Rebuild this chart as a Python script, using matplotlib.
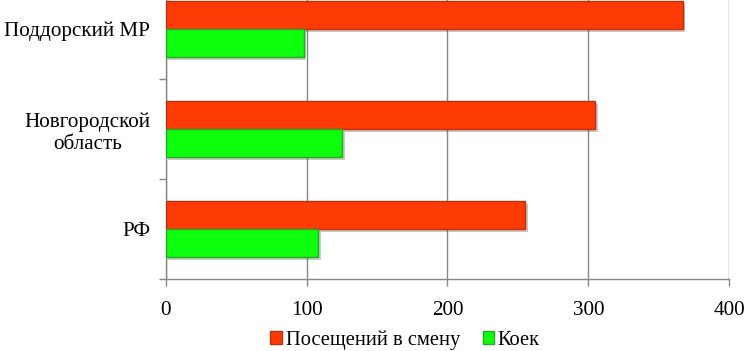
import matplotlib
matplotlib.use("Agg")
import matplotlib.pyplot as plt
import matplotlib.patheffects as pe
from matplotlib.patches import Patch
import numpy as np

categories = ["РФ", "Новгородской\nобласть", "Поддорский МР"]
series_names = ["Посещений в смену", "Коек"]
visits = [255, 305, 367]
beds = [108, 125, 98]
xticks = [0, 100, 200, 300, 400]

red = "#FF3B05"
red_edge = "#B8310F"
green = "#0DFF0D"
green_edge = "#2AA52A"
grid_c = "#878787"

FONT = 'Liberation Serif'
plt.rcParams['font.family'] = [FONT, 'DejaVu Serif']
fs = 15.2

fig = plt.figure(figsize=(7.46, 3.51), dpi=100)
ax = fig.add_axes([0.222, 0.205, 0.7555, 0.855])

y = np.arange(len(categories))
h = 0.28
shadow = [pe.SimplePatchShadow(offset=(2, -2), alpha=0.25), pe.Normal()]
b1 = ax.barh(y + h / 2, visits, height=h, color=red, edgecolor=red_edge,
             linewidth=1, zorder=3, label=series_names[0])
b2 = ax.barh(y - h / 2, beds, height=h, color=green, edgecolor=green_edge,
             linewidth=1, zorder=3, label=series_names[1])
for b in list(b1) + list(b2):
    b.set_path_effects(shadow)

ax.set_xlim(0, 400)
ax.set_ylim(-0.5, 2.5)
ax.set_xticks(xticks)
ax.set_xticklabels([str(v) for v in xticks], fontsize=fs, family=FONT)
ax.set_yticks(y)
ax.set_yticklabels(categories, fontsize=fs, family=FONT, multialignment='center')
ax.set_yticks([-0.5, 0.5, 1.5, 2.5], minor=True)
ax.tick_params(axis='y', which='major', length=0, pad=11)
ax.tick_params(axis='y', which='minor', length=5, color=grid_c, width=1)
ax.tick_params(axis='x', length=5, color=grid_c, width=1, pad=11)
ax.grid(axis='x', color=grid_c, linewidth=1, zorder=0)
ax.set_axisbelow(True)
for s in ['top', 'right']:
    ax.spines[s].set_visible(False)
for s in ['left', 'bottom']:
    ax.spines[s].set_color(grid_c)
    ax.spines[s].set_linewidth(1)

handles = [Patch(facecolor=red, edgecolor=red_edge), Patch(facecolor=green, edgecolor=green_edge)]
fig.legend(handles, series_names, loc='center', bbox_to_anchor=(0.543, 0.031),
           ncol=2, frameon=False, prop={'family': FONT, 'size': 14.8},
           handlelength=0.55, handleheight=0.55, handletextpad=0.2, columnspacing=1.1)

fig.savefig("out.png", dpi=100)
